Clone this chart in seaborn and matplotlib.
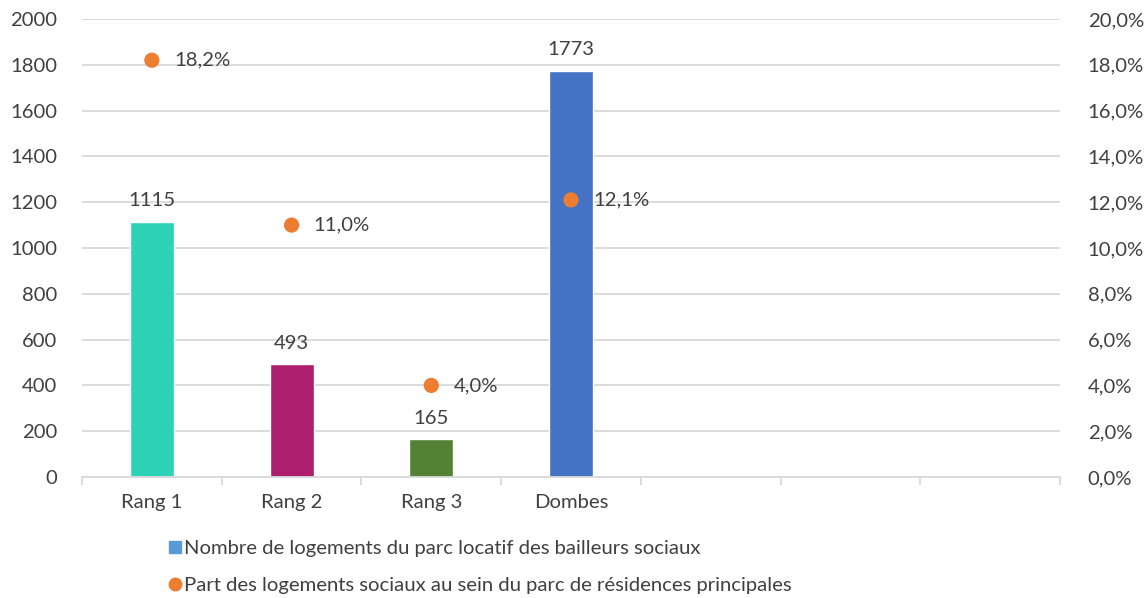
import numpy as np
import pandas as pd
import matplotlib
matplotlib.use("Agg")
import matplotlib.pyplot as plt
from matplotlib.lines import Line2D
from matplotlib.ticker import FuncFormatter, FixedLocator
import seaborn as sns

# Data
categories = ["Rang 1", "Rang 2", "Rang 3", "Dombes"]
logements = [1115, 493, 165, 1773]
part_sociaux = [18.2, 11.0, 4.0, 12.1]
bar_colors = ["#2ED3B7", "#AD1F6E", "#548235", "#4472C4"]
n_slots = 7  # the category axis keeps three empty slots after Dombes

label_bar = "Nombre de logements du parc locatif des bailleurs sociaux"
label_pt = "Part des logements sociaux au sein du parc de résidences principales"

sns.set_theme(style="white")
plt.rcParams["font.family"] = ["Lato", "DejaVu Sans"]
txt = "#404040"
grid = "#D9D9D9"
fs = 14.6

fig = plt.figure(figsize=(11.47, 5.98), dpi=100)
ax = fig.add_axes([82 / 1147, 1 - 477 / 598, (1060 - 82) / 1147, (477 - 19) / 598])

placeholders = [" " * (i + 1) for i in range(n_slots - len(categories))]
order = categories + placeholders
df = pd.DataFrame({"cat": categories, "val": logements})
sns.barplot(data=df, x="cat", y="val", order=order, hue="cat", hue_order=categories,
            palette=bar_colors, width=0.315, legend=False, ax=ax, saturation=1)

ax.set_xlim(-0.5, n_slots - 0.5)
ax.set_ylim(0, 2000)
ax.set_yticks(np.arange(0, 2001, 200))
ax.yaxis.grid(True, color=grid, linewidth=1.3)
ax.set_axisbelow(True)
for s in ["left", "right", "top"]:
    ax.spines[s].set_visible(False)
ax.spines["bottom"].set_color(grid)
ax.spines["bottom"].set_linewidth(1.3)
ax.set_xlabel("")
ax.set_ylabel("")
ax.set_xticks(range(n_slots))
ax.set_xticklabels(categories + [""] * len(placeholders))
ax.xaxis.set_minor_locator(FixedLocator(np.arange(-0.5, n_slots, 1)))
ax.tick_params(axis="x", which="major", bottom=True, length=0, pad=12, labelsize=fs, labelcolor=txt)
ax.tick_params(axis="x", which="minor", bottom=True, length=6, width=1.3, color=grid, direction="out")
ax.tick_params(axis="y", length=0, pad=18, labelsize=fs, labelcolor=txt)
for lab in ax.get_yticklabels():
    lab.set_horizontalalignment("right")

for i, v in enumerate(logements):
    ax.annotate(f"{v}", (i, v), xytext=(0, 9), textcoords="offset points",
                ha="center", va="bottom", fontsize=fs, color=txt)

ax2 = ax.twinx()
xpos = np.arange(len(categories))
sns.scatterplot(x=xpos, y=np.array(part_sociaux) / 100, ax=ax2, color="#ED7D31",
                s=120, edgecolor="none", zorder=5, legend=False)
ax2.set_ylim(0, 0.20)
ax2.set_yticks(np.arange(0, 0.2001, 0.02))
ax2.yaxis.set_major_formatter(FuncFormatter(lambda y, _: f"{y * 100:.1f}%".replace(".", ",")))
ax2.tick_params(axis="y", length=0, pad=20, labelsize=fs, labelcolor=txt)
for s in ["left", "right", "top", "bottom"]:
    ax2.spines[s].set_visible(False)
ax2.set_ylabel("")
for i, p in enumerate(part_sociaux):
    ax2.annotate(f"{p:.1f}%".replace(".", ","), (i, p / 100), xytext=(16, 0),
                 textcoords="offset points", ha="left", va="center", fontsize=fs, color=txt)

handles = [
    Line2D([], [], marker="s", linestyle="none", markersize=8, color="#5B9BD5"),
    Line2D([], [], marker="o", linestyle="none", markersize=9, color="#ED7D31"),
]
fig.legend(handles, [label_bar, label_pt], loc="center left",
           bbox_to_anchor=(160 / 1147, 1 - 567 / 598), frameon=False,
           fontsize=fs, labelcolor=txt, handlelength=0.5, handletextpad=0.2,
           labelspacing=0.95, borderpad=0)

fig.savefig("out.png", dpi=100)
